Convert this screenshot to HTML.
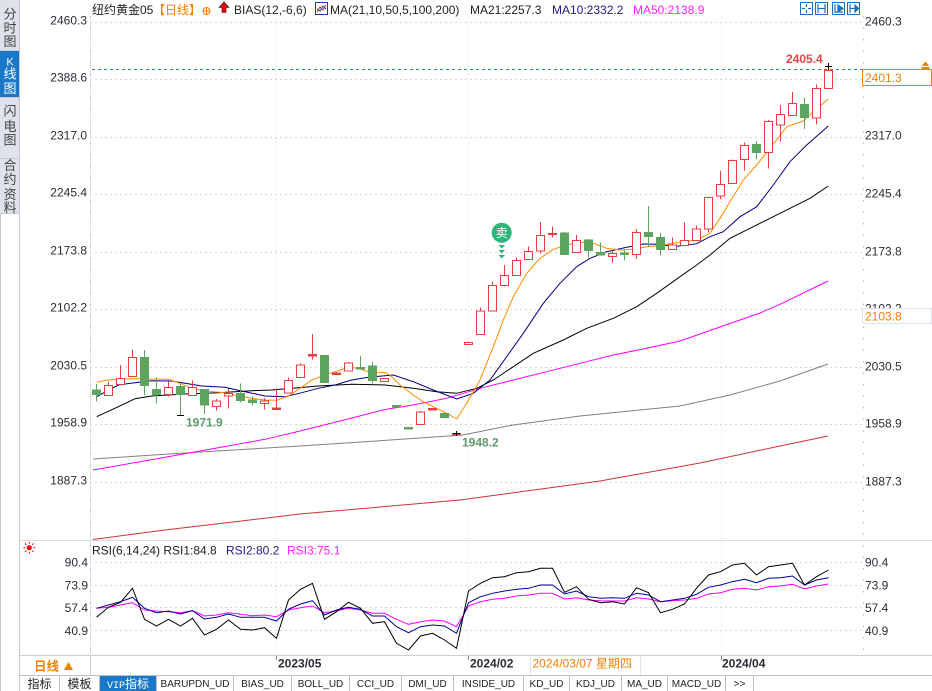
<!DOCTYPE html>
<html><head><meta charset="utf-8"><style>
html,body{margin:0;padding:0;background:#fff;}
svg{display:block;}
text{font-family:"Liberation Sans","Noto Sans CJK SC",sans-serif;}
.m{font-family:"Liberation Mono","Noto Sans CJK SC",monospace;}
</style></head><body>
<svg width="932" height="691" viewBox="0 0 932 691" xmlns="http://www.w3.org/2000/svg">
<rect width="932" height="691" fill="#fff"/>
<!-- sidebar -->
<rect x="0" y="0" width="19" height="213" fill="#dfe2ea"/>
<rect x="0" y="50" width="19" height="47" fill="#1a78c8"/>
<g stroke="#c4c8d2" stroke-width="1">
<line x1="0" y1="50.5" x2="19" y2="50.5"/><line x1="0" y1="97.5" x2="19" y2="97.5"/><line x1="0" y1="158.5" x2="19" y2="158.5"/><line x1="0" y1="213.5" x2="19" y2="213.5"/>
<line x1="0.5" y1="213" x2="0.5" y2="691"/><line x1="19.5" y1="0" x2="19.5" y2="691"/>
</g>
<g font-size="13" fill="#444" text-anchor="middle">
<text x="10" y="18.5">分</text><text x="10" y="32.5">时</text><text x="10" y="46">图</text>
<text x="10" y="65.5" fill="#fff" font-size="11">K</text><text x="10" y="78.5" fill="#fff">线</text><text x="10" y="93" fill="#fff">图</text>
<text x="10" y="115.5">闪</text><text x="10" y="131">电</text><text x="10" y="144.5">图</text>
<text x="10" y="170">合</text><text x="10" y="184">约</text><text x="10" y="199">资</text><text x="10" y="212">料</text>
</g>
<!-- header -->
<g font-size="12">
<text x="92" y="14" fill="#222">纽约黄金05</text>
<text x="153" y="14" fill="#f08000">【日线】</text>
<text x="234" y="14" fill="#222">BIAS(12,-6,6)</text>
<text x="330" y="14" fill="#222">MA(21,10,50,5,100,200)</text>
<text x="470" y="14" fill="#222">MA21:2257.3</text>
<text x="552" y="14" fill="#1c1c8c">MA10:2332.2</text>
<text x="633" y="14" fill="#ff22ff">MA50:2138.9</text>
</g>
<circle cx="206.5" cy="11" r="3.5" fill="none" stroke="#f08000"/>
<line x1="203" y1="11" x2="210" y2="11" stroke="#f08000"/><line x1="206.5" y1="7.5" x2="206.5" y2="14.5" stroke="#f08000"/>
<polygon points="224,2 219,7.5 222,7.5 222,12.5 226,12.5 226,7.5 229,7.5" fill="#e01010" stroke="#400" stroke-width="0.6"/>
<rect x="315.5" y="2.5" width="12" height="12" fill="#fff" stroke="#1a3ea0"/>
<polyline points="317,12 320,7 323,10 326,5" fill="none" stroke="#e02020"/>
<polyline points="317,9 320,11 323,6 326,9" fill="none" stroke="#2040c0"/>
<!-- top right icons -->
<g fill="#fff" stroke="#1a6fc4">
<rect x="800.5" y="2.5" width="12" height="12"/><rect x="815.5" y="2.5" width="12" height="12"/><rect x="832.5" y="2.5" width="12" height="12"/><rect x="847.5" y="2.5" width="12" height="12"/>
</g>
<g stroke="#1a6fc4" stroke-width="1.2">
<line x1="806.5" y1="4" x2="806.5" y2="7"/><line x1="806.5" y1="10" x2="806.5" y2="13"/><line x1="802" y1="8.5" x2="805" y2="8.5"/><line x1="808" y1="8.5" x2="811" y2="8.5"/>
<line x1="818" y1="4" x2="818" y2="13"/><line x1="825" y1="4" x2="825" y2="13"/><line x1="818" y1="8.5" x2="825" y2="8.5"/>
<line x1="835" y1="4" x2="835" y2="13"/><line x1="835" y1="12" x2="843" y2="12"/><polygon points="838,5 843,8.5 838,12" fill="#1a6fc4"/>
<line x1="850" y1="4" x2="850" y2="13"/><line x1="850" y1="8.5" x2="855" y2="8.5"/><polygon points="855,5 858.5,8.5 855,12" fill="#1a6fc4"/>
</g>
<!-- grid -->
<g stroke="#d6d6d6" stroke-width="1" stroke-dasharray="2,3">
<line x1="90" y1="22.5" x2="863" y2="22.5"/><line x1="90" y1="79.5" x2="863" y2="79.5"/><line x1="90" y1="137.5" x2="863" y2="137.5"/><line x1="90" y1="194.5" x2="863" y2="194.5"/><line x1="90" y1="252.5" x2="863" y2="252.5"/><line x1="90" y1="309.5" x2="863" y2="309.5"/><line x1="90" y1="367.5" x2="863" y2="367.5"/><line x1="90" y1="424.5" x2="863" y2="424.5"/><line x1="90" y1="482.5" x2="863" y2="482.5"/>
<line x1="90" y1="562.5" x2="863" y2="562.5"/><line x1="90" y1="585.5" x2="863" y2="585.5"/><line x1="90" y1="607.5" x2="863" y2="607.5"/><line x1="90" y1="630.5" x2="863" y2="630.5"/>
</g>
<g stroke="#d6d6d6" stroke-width="1" stroke-dasharray="1,3">
<line x1="276.5" y1="18" x2="276.5" y2="655"/><line x1="468.5" y1="18" x2="468.5" y2="655"/><line x1="721.5" y1="18" x2="721.5" y2="655"/>
</g>
<line x1="90.5" y1="16" x2="90.5" y2="675" stroke="#e4e4e4"/>
<line x1="90.5" y1="16" x2="90.5" y2="655" stroke="#b8b8b8" stroke-dasharray="1.5,10"/>
<line x1="863.5" y1="16" x2="863.5" y2="655" stroke="#b8b8b8" stroke-dasharray="1.5,10"/>
<line x1="20" y1="540.5" x2="932" y2="540.5" stroke="#dcdcdc"/>
<line x1="20" y1="655.5" x2="932" y2="655.5" stroke="#cfcfcf"/>
<!-- axis labels -->
<g font-size="12" fill="#2c2c38" text-anchor="end">
<text x="87" y="24.5">2460.3</text><text x="87" y="81.5">2388.6</text><text x="87" y="139.5">2317.0</text><text x="87" y="196.5">2245.4</text><text x="87" y="254.5">2173.8</text><text x="87" y="311.5">2102.2</text><text x="87" y="369.5">2030.5</text><text x="87" y="426.5">1958.9</text><text x="87" y="484.5">1887.3</text>
<text x="88" y="566.5">90.4</text><text x="88" y="589.3">73.9</text><text x="88" y="612">57.4</text><text x="88" y="635">40.9</text>
</g>
<g font-size="12" fill="#2c2c38">
<text x="865" y="25.5">2460.3</text><text x="865" y="139.5">2317.0</text><text x="865" y="197.5">2245.4</text><text x="865" y="255.5">2173.8</text><text x="865" y="312.5">2102.2</text><text x="865" y="370.5">2030.5</text><text x="865" y="427.5">1958.9</text><text x="865" y="485.5">1887.3</text>
<text x="865" y="566.5">90.4</text><text x="865" y="589.3">73.9</text><text x="865" y="612">57.4</text><text x="865" y="635">40.9</text>
</g>
<rect x="862.5" y="308.5" width="69" height="15" fill="#fff" stroke="#dde3e8"/>
<text x="865" y="320.5" font-size="12" fill="#f08000">2103.8</text>
<rect x="862.5" y="69.5" width="69" height="16" fill="#fff" stroke="#f08000"/>
<text x="865" y="82" font-size="12" fill="#f08000">2401.3</text>
<polygon points="921.5,66 929.5,66 925.5,61.5" fill="#f08000"/><rect x="921.5" y="67" width="8" height="2" fill="#f08000"/>
<!-- current price dashed -->
<line x1="92" y1="69.5" x2="862" y2="69.5" stroke="#2a80e0" stroke-dasharray="3,3"/>
<!-- MA lines -->
<g fill="none" stroke-width="1">
<polyline stroke="#cc3333" points="93,539.5 165,530 300,514 460,500 600,481 700,463 780,446 828,436"/>
<polyline stroke="#808080" points="93,459 200,452 300,446 380,440.7 463,435 513,425 580,416 680,406 730,395 780,381 828,364"/>
<polyline stroke="#ff00ff" points="93,470 150,460 200,451 265,439.3 300,431 340,421 385,409.5 413,405 446.7,398.3 480,388.3 513.3,380 546.7,371.7 580,363.3 613.3,355 646.7,348.3 680,341 720,327 760,313 780,304.3 828,281"/>
<polyline stroke="#000" points="96.7,416.7 118.3,406.7 135,398.7 151.7,396 185,394 218.3,392.7 251.7,390.7 271.7,390 298.3,387.7 318.3,386 351.7,384.3 385,385 413.3,388.3 436.7,391.7 456.7,393.3 476.7,388.3 493.3,380 513.3,366.7 533.3,353.3 563.3,340 586.7,328.3 613.3,318.3 636.7,306.7 656.7,293.3 680,276.7 696.7,265 710,255 730,238.3 750,228.3 770,218.3 790,208.3 810,198.3 828.3,186"/>
<polyline stroke="#000080" points="96.7,396.7 118.3,385 135,382.7 151.7,380.7 171.7,381 185,383.3 201.7,386 225,387.3 245,391.7 265,396 285,396.7 301.7,392.7 318.3,388.3 335,385 351.7,380 368.3,377.3 385,375.7 393.3,375 413.3,381.7 433.3,390 456.7,399 473.3,393.3 490,380 506.7,356.7 523.3,333.3 543.3,303.3 560,283.3 576.7,266.7 590,258.3 606.7,251.7 626.7,247.3 643.3,244 660,244.3 673.3,246.7 696.7,243.7 710,236.7 723.3,231.7 740,216.7 756.7,206.7 773.3,185 790,161.7 806.7,145 828.3,126"/>
<polyline stroke="#ff8c00" points="96.7,382.3 108.3,380 131.7,378.7 151.7,379 168.3,379.3 180,383.3 191.7,388.3 205,391 225,392.7 238.3,396 251.7,398.3 265,400 276.7,400.3 288.3,396 300,388.3 311.7,380 325,375 335,371.7 348.3,367.3 358.3,368.3 368.3,371.7 376.7,372.3 385,372.5 390,375 400,385 413.3,395 423.3,401.7 433.3,406.7 446.7,413.3 456.7,419 466.7,403.3 480,380 493.3,346.7 503.3,320 513.3,296.7 526.7,273.3 540,258.3 553.3,249.3 566.7,245 580,242.3 593.3,243.3 606.7,248.3 620,250 633.3,249.3 646.7,246.7 663.3,245 680,242 696.7,240 710,233.3 720,218.3 730,201.7 743.3,180 756.7,165 770,148.3 786.7,126.7 803.3,121 813.3,111.7 828.3,99"/>
</g>
<!-- candles -->
<g stroke="#e04040" fill="#fff" stroke-width="1" shape-rendering="crispEdges">
<line x1="108.5" y1="381.7" x2="108.5" y2="395.3"/><rect x="104.5" y="385.7" width="8" height="9.6"/>
<line x1="120.5" y1="365" x2="120.5" y2="385"/><rect x="116.5" y="378.3" width="8" height="6"/>
<line x1="132.5" y1="349.3" x2="132.5" y2="376.7"/><rect x="128.5" y="357.3" width="8" height="19.4"/>
<line x1="168.5" y1="381.7" x2="168.5" y2="396.7"/><rect x="164.5" y="387.7" width="8" height="7"/>
<line x1="192.5" y1="380.7" x2="192.5" y2="395.3"/><rect x="188.5" y="387.7" width="8" height="7.6"/>
<line x1="216.5" y1="399" x2="216.5" y2="410.7"/><rect x="212.5" y="401" width="8" height="5.7"/>
<line x1="228.5" y1="388.3" x2="228.5" y2="408.3"/><rect x="224.5" y="393.3" width="8" height="2.7"/>
<line x1="264.5" y1="398" x2="264.5" y2="409.3"/><rect x="260.5" y="401" width="8" height="2.3"/>
<line x1="276.5" y1="388.3" x2="276.5" y2="409.3"/><rect x="272.5" y="408" width="8" height="1.5" fill="#e04040"/>
<line x1="288.5" y1="377.3" x2="288.5" y2="393"/><rect x="284.5" y="380.3" width="8" height="12.7"/>
<line x1="300.5" y1="363.3" x2="300.5" y2="377.3"/><rect x="296.5" y="365" width="8" height="12.3"/>
<line x1="312.5" y1="334" x2="312.5" y2="359.3"/><rect x="308.5" y="354.7" width="8" height="1.5" fill="#e04040"/>
<line x1="336.5" y1="372" x2="336.5" y2="375"/><rect x="332.5" y="373" width="8" height="1.5" fill="#e04040"/>
<line x1="348.5" y1="362" x2="348.5" y2="371"/><rect x="344.5" y="363" width="8" height="8"/>
<rect x="380.5" y="378.3" width="8" height="3.4"/>
<line x1="420.5" y1="411" x2="420.5" y2="424.3"/><rect x="416.5" y="412" width="8" height="12.3"/>
<rect x="428.5" y="408.5" width="8" height="1.5" fill="#e04040"/>
<rect x="452.5" y="433.5" width="8" height="1.5" fill="#e04040"/>
<rect x="464.5" y="342.7" width="8" height="1.6"/>
<line x1="480.5" y1="307.7" x2="480.5" y2="334.3"/><rect x="476.5" y="311" width="8" height="23.3"/>
<line x1="492.5" y1="281.7" x2="492.5" y2="311"/><rect x="488.5" y="285.7" width="8" height="25.3"/>
<line x1="504.5" y1="265" x2="504.5" y2="286.7"/><rect x="500.5" y="275.7" width="8" height="9.6"/>
<line x1="516.5" y1="257.3" x2="516.5" y2="276"/><rect x="512.5" y="260.3" width="8" height="15"/>
<line x1="528.5" y1="246.7" x2="528.5" y2="260"/><rect x="524.5" y="251.7" width="8" height="7.6"/>
<line x1="540.5" y1="222" x2="540.5" y2="253.3"/><rect x="536.5" y="235.3" width="8" height="15.7"/>
<line x1="552.5" y1="226.7" x2="552.5" y2="237.3"/><rect x="548.5" y="233.5" width="8" height="1.2" fill="#e04040"/>
<line x1="576.5" y1="235" x2="576.5" y2="252.3"/><rect x="572.5" y="240.7" width="8" height="11.6"/>
<line x1="612.5" y1="250" x2="612.5" y2="262.7"/><rect x="608.5" y="253.3" width="8" height="3.4"/>
<line x1="636.5" y1="229" x2="636.5" y2="259"/><rect x="632.5" y="232.3" width="8" height="22"/>
<line x1="672.5" y1="237.7" x2="672.5" y2="249.3"/><rect x="668.5" y="245" width="8" height="4.3"/>
<line x1="684.5" y1="222.3" x2="684.5" y2="245.7"/><rect x="680.5" y="240.7" width="8" height="5"/>
<line x1="696.5" y1="225.7" x2="696.5" y2="240.3"/><rect x="692.5" y="229" width="8" height="11.3"/>
<line x1="708.5" y1="196.3" x2="708.5" y2="232.3"/><rect x="704.5" y="197.3" width="8" height="31.7"/>
<line x1="720.5" y1="171" x2="720.5" y2="199"/><rect x="716.5" y="184.3" width="8" height="11.7"/>
<line x1="732.5" y1="159.3" x2="732.5" y2="183.3"/><rect x="728.5" y="160.3" width="8" height="23"/>
<line x1="744.5" y1="142.7" x2="744.5" y2="170.7"/><rect x="740.5" y="145.3" width="8" height="14"/>
<line x1="768.5" y1="120" x2="768.5" y2="168.3"/><rect x="764.5" y="121.3" width="8" height="31"/>
<line x1="780.5" y1="105" x2="780.5" y2="141.7"/><rect x="776.5" y="114.7" width="8" height="10.3"/>
<line x1="792.5" y1="92" x2="792.5" y2="115.3"/><rect x="788.5" y="103.7" width="8" height="11.6"/>
<line x1="816.5" y1="84.3" x2="816.5" y2="124.3"/><rect x="812.5" y="88.3" width="8" height="29.7"/>
<line x1="828.5" y1="66" x2="828.5" y2="88.3"/><rect x="824.5" y="70.3" width="8" height="18"/>
</g>
<g stroke="#5ea35e" fill="#5ea35e" stroke-width="1" shape-rendering="crispEdges">
<line x1="96.5" y1="384" x2="96.5" y2="401.7"/><rect x="92.5" y="390" width="8" height="4.7"/>
<line x1="144.5" y1="350" x2="144.5" y2="395"/><rect x="140.5" y="357.3" width="8" height="28.4"/>
<line x1="156.5" y1="377.3" x2="156.5" y2="403.3"/><rect x="152.5" y="389.3" width="8" height="5.4"/>
<line x1="180.5" y1="384" x2="180.5" y2="415"/><rect x="176.5" y="386.3" width="8" height="8.4"/>
<line x1="204.5" y1="389" x2="204.5" y2="414"/><rect x="200.5" y="389.3" width="8" height="15.7"/>
<line x1="240.5" y1="383.3" x2="240.5" y2="402.7"/><rect x="236.5" y="393.3" width="8" height="7.4"/>
<line x1="252.5" y1="396" x2="252.5" y2="405.3"/><rect x="248.5" y="400" width="8" height="2.3"/>
<line x1="324.5" y1="355" x2="324.5" y2="383"/><rect x="320.5" y="355.7" width="8" height="26.6"/>
<line x1="360.5" y1="356" x2="360.5" y2="369"/><rect x="356.5" y="367.3" width="8" height="1.7"/>
<line x1="372.5" y1="361.7" x2="372.5" y2="383.3"/><rect x="368.5" y="366" width="8" height="14.3"/>
<rect x="392.5" y="405.5" width="8" height="1.5"/>
<rect x="404.5" y="427.5" width="8" height="1.5"/>
<rect x="440.5" y="413.3" width="8" height="4.4"/>
<line x1="564.5" y1="232" x2="564.5" y2="255"/><rect x="560.5" y="233" width="8" height="21.3"/>
<line x1="588.5" y1="239" x2="588.5" y2="257.3"/><rect x="584.5" y="240" width="8" height="10.3"/>
<line x1="600.5" y1="242.7" x2="600.5" y2="255"/><rect x="596.5" y="252.3" width="8" height="2.7"/>
<line x1="624.5" y1="250" x2="624.5" y2="260.7"/><rect x="620.5" y="253" width="8" height="1.5"/>
<line x1="648.5" y1="206" x2="648.5" y2="246.7"/><rect x="644.5" y="232.3" width="8" height="4.4"/>
<line x1="660.5" y1="233" x2="660.5" y2="255.7"/><rect x="656.5" y="237.3" width="8" height="12"/>
<line x1="756.5" y1="141" x2="756.5" y2="159.3"/><rect x="752.5" y="144.3" width="8" height="8.4"/>
<line x1="804.5" y1="97.7" x2="804.5" y2="129"/><rect x="800.5" y="104.3" width="8" height="13"/>
</g>
<!-- markers -->
<g stroke="#000" stroke-width="1" shape-rendering="crispEdges">
<line x1="177" y1="415.5" x2="184" y2="415.5"/>
<line x1="453" y1="433.5" x2="460" y2="433.5"/><line x1="456.5" y1="431" x2="456.5" y2="436"/>
<line x1="825" y1="66.5" x2="832" y2="66.5"/><line x1="828.5" y1="63" x2="828.5" y2="70"/>
</g>
<text x="786" y="63" font-size="12" font-weight="bold" fill="#e04848">2405.4</text>
<text x="186" y="426.5" font-size="12" font-weight="bold" fill="#5e9a6e">1971.9</text>
<text x="462" y="446.5" font-size="12" font-weight="bold" fill="#5e9a6e">1948.2</text>
<circle cx="501.7" cy="232.7" r="10" fill="#2db57a"/>
<text x="501.7" y="237" font-size="12" fill="#fff" text-anchor="middle">卖</text>
<g fill="#2db57a"><polygon points="498.5,245 505,245 501.7,248.5"/><polygon points="498.5,250 505,250 501.7,253.5"/><polygon points="498.5,255 505,255 501.7,258.5"/></g>
<!-- RSI -->
<circle cx="29.3" cy="547.7" r="2.6" fill="#e01010"/>
<g stroke="#e01010" stroke-width="1"><line x1="29.3" y1="541.7" x2="29.3" y2="543.7"/><line x1="29.3" y1="551.7" x2="29.3" y2="553.7"/><line x1="23.3" y1="547.7" x2="25.3" y2="547.7"/><line x1="33.3" y1="547.7" x2="35.3" y2="547.7"/><line x1="25" y1="543.4" x2="26.4" y2="544.8"/><line x1="32.2" y1="550.6" x2="33.6" y2="552"/><line x1="25" y1="552" x2="26.4" y2="550.6"/><line x1="32.2" y1="544.8" x2="33.6" y2="543.4"/></g>
<g font-size="12">
<text x="92" y="554.5" fill="#222">RSI(6,14,24) RSI1:84.8</text>
<text x="226" y="554.5" fill="#1c1c8c">RSI2:80.2</text>
<text x="287" y="554.5" fill="#ff22ff">RSI3:75.1</text>
</g>
<g fill="none" stroke-width="1">
<polyline stroke="#ff00ff" points="96.5,608.3 108.5,607.3 120.5,605 132.5,602.7 144.5,610 156.5,611 168.5,611.7 180.5,612.7 192.5,610.7 204.5,616 216.5,615 228.5,612.7 240.5,614.3 252.5,615.7 264.5,615 276.5,616.7 288.5,610 300.5,607.7 312.5,606 324.5,612.7 336.5,610.7 348.5,608.3 360.5,610 372.5,613.3 384.5,613.3 396.5,619.3 408.5,624.3 420.5,621.7 432.5,620 444.5,621 456.5,626.7 468.5,606 480.5,601.7 492.5,599.3 504.5,598.3 516.5,596 528.5,595 540.5,593.3 552.5,593.3 564.5,599 576.5,597.7 588.5,600 600.5,600.7 612.5,601 624.5,601 636.5,597.7 648.5,599 660.5,601.7 672.5,600.7 684.5,600 696.5,598.3 708.5,594 720.5,592.7 732.5,589.3 744.5,588.3 756.5,590 768.5,586.7 780.5,586 792.5,584.3 804.5,589 816.5,586 828.5,584"/>
<polyline stroke="#000090" points="96.5,608.3 108.5,605 120.5,601.7 132.5,597.3 144.5,608.3 156.5,612.7 168.5,611 180.5,614 192.5,610.7 204.5,619 216.5,617.3 228.5,614 240.5,617.3 252.5,617.3 264.5,617.3 276.5,621 288.5,609.3 300.5,604 312.5,600.7 324.5,615 336.5,610 348.5,607.3 360.5,609.3 372.5,616 384.5,616 396.5,626.7 408.5,632.7 420.5,626.7 432.5,625 444.5,626 456.5,633.3 468.5,602.7 480.5,596.7 492.5,593.3 504.5,591 516.5,589.3 528.5,588.3 540.5,585 552.5,585 564.5,594 576.5,591 588.5,596.7 600.5,598.3 612.5,597.7 624.5,598.3 636.5,593.3 648.5,595 660.5,601.7 672.5,600 684.5,598.3 696.5,594.3 708.5,587.3 720.5,585 732.5,581.7 744.5,579.3 756.5,582.7 768.5,578.3 780.5,577.7 792.5,576 804.5,585 816.5,580 828.5,577.7"/>
<polyline stroke="#000" points="96.5,617.3 108.5,607.3 120.5,602.3 132.5,588.3 144.5,619.3 156.5,626 168.5,619.3 180.5,626 192.5,618.3 204.5,635 216.5,629.3 228.5,620 240.5,629.3 252.5,630 264.5,627.7 276.5,638.3 288.5,600 300.5,589.3 312.5,583.3 324.5,619.3 336.5,611.7 348.5,602.3 360.5,608.3 372.5,623.3 384.5,621.7 396.5,643.3 408.5,650 420.5,636 432.5,633.3 444.5,640 456.5,648.3 468.5,591 480.5,583.3 492.5,577.7 504.5,576.7 516.5,572.7 528.5,571.7 540.5,568.3 552.5,568.3 564.5,592.3 576.5,586.7 588.5,599.3 600.5,602.7 612.5,601.7 624.5,604 636.5,587.7 648.5,592.7 660.5,612.7 672.5,609.3 684.5,604 696.5,588.3 708.5,575 720.5,571.7 732.5,565 744.5,563.3 756.5,575 768.5,566.7 780.5,565 792.5,563.3 804.5,585 816.5,576.7 828.5,570"/>
</g>
<!-- date row -->
<line x1="90.5" y1="655" x2="90.5" y2="675" stroke="#cfcfcf"/>
<g stroke="#888"><line x1="276.5" y1="656" x2="276.5" y2="660"/><line x1="468.5" y1="656" x2="468.5" y2="660"/><line x1="721.5" y1="656" x2="721.5" y2="660"/></g>
<g stroke="#e6e6e6"><line x1="530.5" y1="656" x2="530.5" y2="675"/><line x1="640.5" y1="656" x2="640.5" y2="675"/></g>
<text x="34" y="670.5" font-size="12.5" font-weight="bold" fill="#f08000">日线</text>
<polygon points="64,670 73,670 68.5,662" fill="#f08000"/>
<g font-size="12" font-weight="bold" fill="#2c2c38">
<text x="278" y="667.5">2023/05</text><text x="470" y="667.5">2024/02</text><text x="722" y="667.5">2024/04</text>
</g>
<text x="532.5" y="667.5" font-size="12" fill="#f08000">2024/03/07 星期四</text>
<!-- tabs -->
<line x1="19" y1="675.5" x2="932" y2="675.5" stroke="#c0c0c0"/>
<rect x="100" y="676" width="56" height="15" fill="#1a78c8"/>
<g stroke="#c0c0c0"><line x1="59.5" y1="676" x2="59.5" y2="691"/><line x1="99.5" y1="676" x2="99.5" y2="691"/><line x1="156.5" y1="676" x2="156.5" y2="691"/><line x1="233.5" y1="676" x2="233.5" y2="691"/><line x1="291.5" y1="676" x2="291.5" y2="691"/><line x1="349.5" y1="676" x2="349.5" y2="691"/><line x1="401.5" y1="676" x2="401.5" y2="691"/><line x1="453.5" y1="676" x2="453.5" y2="691"/><line x1="523.5" y1="676" x2="523.5" y2="691"/><line x1="569.5" y1="676" x2="569.5" y2="691"/><line x1="621.5" y1="676" x2="621.5" y2="691"/><line x1="667.5" y1="676" x2="667.5" y2="691"/><line x1="725.5" y1="676" x2="725.5" y2="691"/><line x1="753.5" y1="676" x2="753.5" y2="691"/></g>
<g font-size="12" fill="#222" text-anchor="middle">
<text x="39.5" y="688">指标</text><text x="79.5" y="688">模板</text>
</g>
<text x="107" y="688" fill="#fff"><tspan class="m" font-size="10" font-family="Liberation Mono, monospace">VIP</tspan><tspan font-size="12">指标</tspan></text>
<g class="m" font-size="10" fill="#222" text-anchor="middle" font-family="Liberation Mono, monospace">
<text x="195" y="687">BARUPDN_UD</text><text x="262.5" y="687">BIAS_UD</text><text x="320.5" y="687">BOLL_UD</text><text x="375.5" y="687">CCI_UD</text><text x="427.5" y="687">DMI_UD</text><text x="488.5" y="687">INSIDE_UD</text><text x="546.5" y="687">KD_UD</text><text x="595.5" y="687">KDJ_UD</text><text x="644.5" y="687">MA_UD</text><text x="696.5" y="687">MACD_UD</text><text x="739.5" y="687">&gt;&gt;</text>
</g>
</svg>
</body></html>
